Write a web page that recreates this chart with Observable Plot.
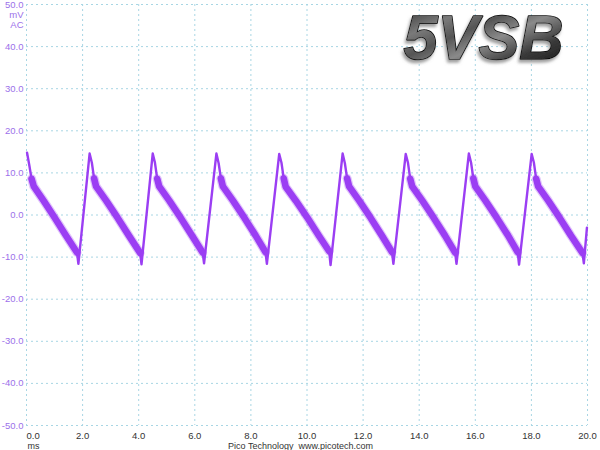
<!DOCTYPE html>
<html><head><meta charset="utf-8">
<script src="https://cdn.jsdelivr.net/npm/d3@7"></script>
<script src="https://cdn.jsdelivr.net/npm/@observablehq/plot@0.6"></script>
<style>body{margin:0;background:#fff}</style>
</head><body><div id="chart"></div>
<script>
// ---- data (time in ms, voltage in mV AC) ----
const timeMs = [
  0.02,0.10,0.18,0.26,0.62,1.00,1.40,1.80,1.85,
  2.25,2.33,2.41,2.48,2.84,3.25,3.65,4.05,4.10,
  4.50,4.58,4.66,4.73,5.09,5.50,5.90,6.28,6.33,
  6.77,6.85,6.93,7.00,7.36,7.77,8.17,8.52,8.57,
  9.01,9.09,9.17,9.24,9.60,10.01,10.43,10.79,10.84,
  11.27,11.35,11.43,11.50,11.86,12.27,12.67,13.03,13.08,
  13.52,13.60,13.68,13.75,14.11,14.52,14.92,15.28,15.33,
  15.77,15.85,15.93,16.00,16.36,16.77,17.17,17.51,17.56,
  18.01,18.09,18.17,18.24,18.60,19.01,19.41,19.82,19.87,
  19.98
];
const voltMv = [
  14.8,11.8,8.6,6.8,3.3,-0.6,-4.8,-8.9,-11.6,
  14.6,12.4,8.7,6.8,3.4,-0.7,-4.9,-9.0,-11.7,
  14.6,12.4,8.6,6.8,3.4,-0.7,-4.9,-8.9,-11.5,
  14.6,12.3,8.7,6.8,3.4,-0.7,-4.9,-8.8,-11.6,
  14.5,12.4,8.7,6.7,3.4,-0.6,-5.0,-8.6,-11.9,
  14.6,12.3,8.7,6.8,3.4,-0.7,-4.9,-8.8,-11.6,
  14.5,12.4,8.6,6.8,3.4,-0.7,-4.9,-8.9,-11.6,
  14.6,12.4,8.7,6.8,3.4,-0.7,-4.9,-8.8,-11.8,
  14.5,12.4,8.6,6.8,3.4,-0.7,-4.9,-9.0,-11.5,
  -3.0
];
// 1 = point lies on the noisy (thick) ramp-down part of the trace
const noisy = [
  0,0,1,1,1,1,1,1,0,
  0,0,1,1,1,1,1,1,0,
  0,0,1,1,1,1,1,1,0,
  0,0,1,1,1,1,1,1,0,
  0,0,1,1,1,1,1,1,0,
  0,0,1,1,1,1,1,1,0,
  0,0,1,1,1,1,1,1,0,
  0,0,1,1,1,1,1,1,0,
  0,0,1,1,1,1,1,1,0,
  0
];
const xTicks = [0,2,4,6,8,10,12,14,16,18,20];
const yTicks = [-50,-40,-30,-20,-10,0,10,20,30,40,50];
const yUnit = "mV\nAC";
const xUnit = "ms";
const footer = "Pico Technology  www.picotech.com";
const title = "5VSB";

// ---- build tables ----
const trace = timeMs.map((t, i) => ({t, v: voltMv[i], noisy: noisy[i] === 1}));
const band = [];
let seg = 0;
trace.forEach((d, i) => {
  if (d.noisy) {
    if (i === 0 || !trace[i - 1].noisy) seg++;
    band.push({...d, seg});
  }
});

const purple = "#9b3ef3";
const font = "'Liberation Sans', Arial, sans-serif";

const chart = Plot.plot({
  width: 600, height: 450,
  marginLeft: 26, marginRight: 13, marginTop: 4, marginBottom: 25,
  x: {domain: [0, 20], axis: null},
  y: {domain: [-50, 50], axis: null},
  style: {background: "#fff", fontFamily: font, overflow: "visible"},
  marks: [
    Plot.gridX(xTicks, {stroke: "#a8d6e4", strokeOpacity: 1, strokeWidth: 1, strokeDasharray: "2,3"}),
    Plot.gridY(yTicks, {stroke: "#a8d6e4", strokeOpacity: 1, strokeWidth: 1, strokeDasharray: "2,3"}),
    Plot.line(trace, {x: "t", y: "v", stroke: purple, strokeWidth: 2.4}),
    Plot.line(band, {x: "t", y: "v", z: "seg", stroke: purple, strokeWidth: 9, strokeOpacity: 0.3}),
    Plot.line(band, {x: "t", y: "v", z: "seg", stroke: purple, strokeWidth: 6.6}),
    // y tick labels
    Plot.text(yTicks, {x: 0, y: d => d, text: d => d.toFixed(1), textAnchor: "end", dx: -3,
      fill: "#9c70ea", fontSize: 9.5}),
    Plot.text([yUnit], {x: 0, y: 50, text: d => d, textAnchor: "end", dx: -3, dy: 6.5,
      lineAnchor: "top", lineHeight: 1.05, fill: "#9c70ea", fontSize: 9.5}),
    // x tick labels
    Plot.text(xTicks.slice(0, 1), {x: d => d, y: -50, text: d => d.toFixed(1), textAnchor: "start",
      dy: 10, fill: "#333", fontSize: 9.5}),
    Plot.text(xTicks.slice(1), {x: d => d, y: -50, text: d => d.toFixed(1),
      dy: 10, fill: "#333", fontSize: 9.5}),
    Plot.text([xUnit], {x: 0, y: -50, text: d => d, textAnchor: "start", dx: 1, dy: 21,
      fill: "#333", fontSize: 9}),
    Plot.text([footer], {frameAnchor: "bottom", lineAnchor: "middle", dx: -6.5, dy: 21,
      text: d => d, fill: "#333", fontSize: 9}),
    // title
    Plot.text([title], {frameAnchor: "top-right", textAnchor: "end", lineAnchor: "top", dx: -24, dy: 10,
      text: d => d, fontSize: 63, fontWeight: "bold", fontStyle: "italic", fill: "url(#titleGrad)",
      stroke: "#0a0a0a", strokeWidth: 1.6, className: "title-main"})
  ]
});

const svg = d3.select(chart);
const defs = svg.insert("defs", ":first-child");
const g = defs.append("linearGradient").attr("id", "titleGrad")
  .attr("x1", 0).attr("y1", 0).attr("x2", 1).attr("y2", 1);
[[0, "#2a2a2a"], [0.25, "#7a7a7a"], [0.4, "#555"], [0.55, "#8a8a8a"], [0.75, "#3a3a3a"], [1, "#111"]]
  .forEach(([o, c]) => g.append("stop").attr("offset", o).attr("stop-color", c));
const f = defs.append("filter").attr("id", "titleShadow")
  .attr("x", "-10%").attr("y", "-10%").attr("width", "130%").attr("height", "140%");
f.append("feDropShadow").attr("dx", -1.5).attr("dy", 3).attr("stdDeviation", 1.6)
  .attr("flood-color", "#888").attr("flood-opacity", 0.8);
svg.selectAll(".title-main text")
  .attr("textLength", 160).attr("lengthAdjust", "spacingAndGlyphs")
  .attr("filter", "url(#titleShadow)").attr("paint-order", "stroke");

document.getElementById("chart").appendChild(chart);
</script>
</body></html>
